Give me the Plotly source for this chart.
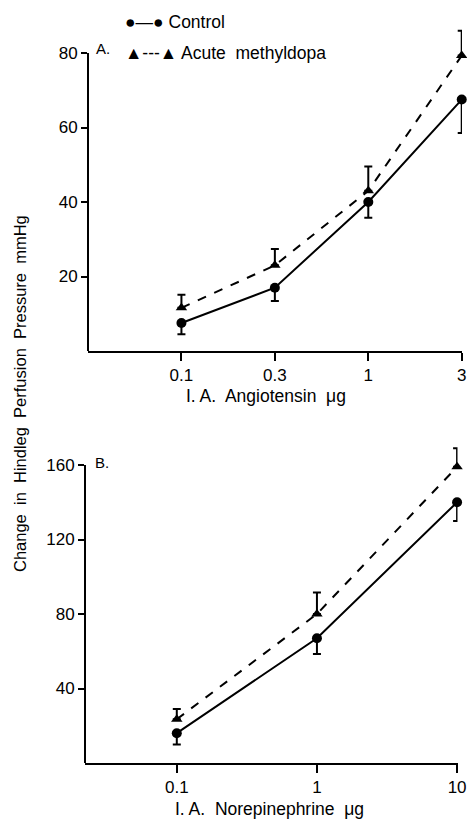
import plotly.graph_objects as go

# Panel A: angiotensin
doses_a = ["0.1", "0.3", "1", "3"]
ctrl_a = [7.5, 17, 40, 67.5]
ctrl_a_err = [3, 3.6, 4.2, 9]
meth_a = [11.6, 23, 43, 79.3]
meth_a_err = [3.5, 4.4, 6.5, 6.7]

# Panel B: norepinephrine
doses_b = [0.1, 1, 10]
ctrl_b = [16, 67, 140]
ctrl_b_err = [6, 8.5, 10]
meth_b = [23.5, 80, 159]
meth_b_err = [5.5, 11.5, 10]

FONT = "Liberation Sans"
W, H = 467, 819

fig = go.Figure()

def add_pair(xa, ya, xs, c, ce, m, me):
    fig.add_trace(go.Scatter(
        x=xs, y=c, xaxis=xa, yaxis=ya, mode="lines+markers",
        line=dict(color="black", width=2),
        marker=dict(symbol="circle", size=10, color="black"),
        error_y=dict(type="data", array=[0]*len(c), arrayminus=ce, symmetric=False,
                     color="black", thickness=2, width=4),
        cliponaxis=False, showlegend=False))
    fig.add_trace(go.Scatter(
        x=xs, y=m, xaxis=xa, yaxis=ya, mode="lines+markers",
        line=dict(color="black", width=2, dash="dash"),
        marker=dict(symbol="triangle-up", size=10, color="black"),
        error_y=dict(type="data", array=me, arrayminus=[0]*len(m), symmetric=False,
                     color="black", thickness=2, width=4),
        cliponaxis=False, showlegend=False))

add_pair("x", "y", doses_a, ctrl_a, ctrl_a_err, meth_a, meth_a_err)
add_pair("x2", "y2", doses_b, ctrl_b, ctrl_b_err, meth_b, meth_b_err)

axis_common = dict(showline=True, linecolor="black", linewidth=2, ticks="outside",
                   tickcolor="black", tickwidth=2, showgrid=False, zeroline=False,
                   automargin=False, ticklabeloverflow="allow",
                   tickfont=dict(family=FONT, size=17, color="black"))

def px(xp):
    return xp / W

def py(yp):
    return 1 - yp / H

# y ranges extended above the top tick so the upper error bars are not clipped;
# the visible y-axis lines stop at the top tick (drawn as shapes)
A_TOP, A_MAX = 80, 90
B_TOP, B_MAX = 160, 176
a_px = (351 - 53) / A_TOP
b_px = (763 - 465) / B_TOP

fig.update_layout(
    width=W, height=H, margin=dict(l=0, r=0, t=0, b=0, autoexpand=False),
    paper_bgcolor="white", plot_bgcolor="rgba(0,0,0,0)",
    xaxis=dict(axis_common, type="category", range=[-1, 3.003], domain=[px(88), px(462)],
               anchor="y", ticklen=8),
    yaxis=dict(axis_common, showline=False, range=[0, A_MAX], tickvals=[20, 40, 60, 80],
               domain=[py(351), py(351 - a_px * A_MAX)], anchor="x", ticklen=6),
    xaxis2=dict(axis_common, type="log", range=[-1.655, 1.003], tickvals=doses_b,
                ticktext=["0.1", "1", "10"], domain=[px(85), px(457.5)], anchor="y2", ticklen=8),
    yaxis2=dict(axis_common, showline=False, range=[0, B_MAX], tickvals=[40, 80, 120, 160],
                domain=[py(763), py(763 - b_px * B_MAX)], anchor="x2", ticklen=6),
)

fig.add_shape(type="line", xref="x domain", yref="y", x0=0, x1=0, y0=0, y1=A_TOP,
              line=dict(color="black", width=2))
fig.add_shape(type="line", xref="x2 domain", yref="y2", x0=0, x1=0, y0=0, y1=B_TOP,
              line=dict(color="black", width=2))

def txt(x, y, s, size=16, xanchor="center", yanchor="middle", angle=0):
    fig.add_annotation(x=px(x), y=py(y), xref="paper", yref="paper", text=s,
                       showarrow=False, xanchor=xanchor, yanchor=yanchor, textangle=angle,
                       font=dict(family=FONT, size=size, color="black"))

txt(266, 396, "I. A.  Angiotensin  μg", 17.5)
txt(269, 809, "I. A.  Norepinephrine  μg", 17.5)
txt(20, 394, "Change  in  Hindleg  Perfusion  Pressure  mmHg", 16.5, angle=-90)
txt(94, 48, "A.", 15, xanchor="left")
txt(93, 462, "B.", 15, xanchor="left")
txt(123, 22, "●—● Control", 17.5, xanchor="left")
txt(123, 53, "▲---▲ Acute  methyldopa", 17.5, xanchor="left")

fig.write_html(
    "out.html",
    config={"displayModeBar": False},
    post_script="document.body.style.margin='0';document.body.style.overflow='hidden';",
)
